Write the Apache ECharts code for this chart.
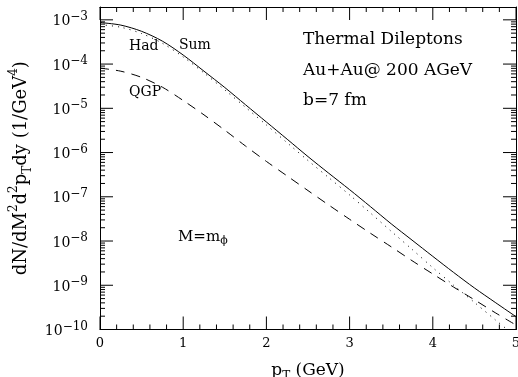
<!DOCTYPE html>
<html>
<head>
<meta charset="utf-8">
<script src="https://cdn.jsdelivr.net/npm/echarts@6/dist/echarts.min.js"></script>
<style>
html, body { margin: 0; padding: 0; background: #fff; }
#chart { width: 518px; height: 377px; }
</style>
</head>
<body>
<div id="chart"></div>
<script>
// p_T grid (GeV)
const pT = [0, 0.25, 0.5, 0.75, 1, 1.25, 1.5, 1.75, 2, 2.25, 2.5, 2.75, 3, 3.25, 3.5, 3.75, 4, 4.25, 4.5, 4.75, 5];
// dN/dM^2 d^2pT dy (1/GeV^4)
const sumRate = [8.7e-4, 7.6e-4, 5.5e-4, 3.3e-4, 1.6e-4, 6.9e-5, 2.95e-5, 1.2e-5, 4.9e-6, 2.0e-6, 8.1e-7,
  3.4e-7, 1.45e-7, 6.0e-8, 2.45e-8, 1.05e-8, 4.5e-9, 1.95e-9, 8.7e-10, 4.1e-10, 1.95e-10];
const hadRate = [7.8e-4, 6.8e-4, 4.9e-4, 2.95e-4, 1.45e-4, 6.3e-5, 2.6e-5, 1.05e-5, 4.2e-6, 1.66e-6, 6.6e-7,
  2.7e-7, 1.1e-7, 4.3e-8, 1.66e-8, 6.5e-9, 2.5e-9, 1.0e-9, 4.1e-10, 1.66e-10, 6.9e-11];
const qgpRate = [8.1e-5, 6.9e-5, 5.0e-5, 3.0e-5, 1.5e-5, 7.1e-6, 3.2e-6, 1.4e-6, 6.3e-7, 2.95e-7, 1.38e-7,
  6.5e-8, 3.1e-8, 1.5e-8, 7.4e-9, 3.6e-9, 1.8e-9, 9.1e-10, 4.7e-10, 2.4e-10, 1.26e-10];
// ticks
const xMajor = [0, 1, 2, 3, 4, 5];
const xMinorSteps = [0.2, 0.4, 0.6, 0.8];
const decades = [1e-10, 1e-9, 1e-8, 1e-7, 1e-6, 1e-5, 1e-4, 1e-3];
const minorSteps = [2, 3, 4, 5, 6, 7, 8, 9];

const yMin = 1e-10, yMax = 1.95e-3;
const font = 'DejaVu Serif';

const xMinor = [];
xMajor.slice(0, -1).forEach(x => xMinorSteps.forEach(s => xMinor.push(x + s)));
const yMinor = [];
decades.forEach(d => minorSteps.forEach(k => { if (k * d <= yMax) yMinor.push(k * d); }));

// tick marks on the bottom/top and left/right frame
const onFrameX = xs => xs.map(x => [x, yMin]).concat(xs.map(x => [x, yMax]));
const onFrameY = ys => ys.map(v => [0, v]).concat(ys.map(v => [5, v]));

const pairs = arr => pT.map((x, i) => [x, arr[i]]);
const black = () => ({color: '#000', width: 1});

function yAxisOf(position, withLabel) {
  return {
    type: 'log', logBase: 10, position: position, min: yMin, max: yMax,
    splitLine: {show: false},
    axisLine: {show: true, onZero: false, lineStyle: black()},
    axisTick: {show: false},
    axisLabel: withLabel ? {
      margin: 12, color: '#000',
      formatter: v => {
        const e = Math.log10(v);
        if (Math.abs(e - Math.round(e)) > 1e-6) return '';
        return '{b|10}{s|\u2212' + (-Math.round(e)) + '}';
      },
      rich: {
        b: {fontFamily: font, fontSize: 14, lineHeight: 18, verticalAlign: 'bottom', color: '#000'},
        s: {fontFamily: font, fontSize: 12, lineHeight: 13, verticalAlign: 'top', color: '#000'}
      }
    } : {show: false}
  };
}

function xAxisOf(position, withLabel) {
  return {
    type: 'value', position: position, min: 0, max: 5, interval: 1,
    splitLine: {show: false},
    axisLine: {show: true, onZero: false, lineStyle: black()},
    axisTick: {show: false},
    axisLabel: withLabel ? {
      margin: 8, color: '#000', fontFamily: font, fontSize: 13
    } : {show: false}
  };
}

const chart = echarts.init(document.getElementById('chart'));

const xBottom = xAxisOf('bottom', true);
xBottom.name = 'p{u|T} (GeV)';
xBottom.nameLocation = 'middle';
xBottom.nameGap = 29;
xBottom.nameTextStyle = {
  fontFamily: font, fontSize: 17, color: '#000', lineHeight: 24,
  rich: {u: {fontFamily: font, fontSize: 12, lineHeight: 12, verticalAlign: 'bottom', color: '#000'}}
};

const yLeft = yAxisOf('left', true);
yLeft.name = 'dN/dM{s|2}d{s|2}p{u|T}dy (1/GeV{s|4})';
yLeft.nameLocation = 'middle';
yLeft.nameRotate = 90;
yLeft.nameGap = 66;
yLeft.nameTextStyle = {
  fontFamily: font, fontSize: 18, color: '#000', lineHeight: 26,
  rich: {
    s: {fontFamily: font, fontSize: 12, lineHeight: 12, verticalAlign: 'top', color: '#000'},
    u: {fontFamily: font, fontSize: 12, lineHeight: 12, verticalAlign: 'bottom', color: '#000'}
  }
};

const lineSeries = (name, arr, type) => ({
  name: name, type: 'line', data: pairs(arr),
  xAxisIndex: 0, yAxisIndex: 0,
  symbol: 'none', smooth: 0.3, clip: true,
  lineStyle: {color: '#000', width: 1, type: type}
});

// inward tick marks placed through the axes' own scales
const tickSeries = (name, data, len, vertical) => ({
  name: name, type: 'custom', xAxisIndex: 0, yAxisIndex: 0,
  silent: true, clip: false, z: 10, data: data,
  renderItem: (params, api) => {
    const p = api.coord([api.value(0), api.value(1)]);
    let shape;
    if (vertical) {
      const dir = api.value(1) === yMin ? -1 : 1;
      shape = {x1: p[0], y1: p[1], x2: p[0], y2: p[1] + dir * len};
    } else {
      const dir = api.value(0) === 0 ? 1 : -1;
      shape = {x1: p[0], y1: p[1], x2: p[0] + dir * len, y2: p[1]};
    }
    return {type: 'line', shape: shape, style: {stroke: '#000', lineWidth: 1}};
  }
});

// annotation texts as title boxes, centred vertically on y
const note = (text, x, y, size) => ({
  text: text, left: x, top: y - 10, padding: 0,
  textStyle: {fontFamily: font, fontSize: size, fontWeight: 'normal', color: '#000', lineHeight: 20}
});

const mNote = note('M=m{u|\u03d5}', 178, 237, 15);
mNote.textStyle.rich = {u: {fontFamily: font, fontSize: 11, lineHeight: 11, verticalAlign: 'bottom', color: '#000'}};

chart.setOption({
  animation: false,
  backgroundColor: '#fff',
  title: [
    note('Thermal Dileptons', 303, 39.5, 17),
    note('Au+Au@ 200 AGeV', 303, 71, 17),
    note('b=7 fm', 303, 101, 17),
    note('Had', 129, 46.5, 14),
    note('Sum', 179, 45, 14),
    note('QGP', 129, 92.5, 14),
    mNote
  ],
  grid: {left: 100, right: 2, top: 7, bottom: 47.5, outerBoundsMode: 'none'},
  xAxis: [xBottom, xAxisOf('top', false)],
  yAxis: [yLeft, yAxisOf('right', false)],
  series: [
    lineSeries('Sum', sumRate, 'solid'),
    lineSeries('Had', hadRate, [1, 5]),
    lineSeries('QGP', qgpRate, [9, 7]),
    tickSeries('x major', onFrameX(xMajor), 13, true),
    tickSeries('x minor', onFrameX(xMinor), 5, true),
    tickSeries('y major', onFrameY(decades), 13, false),
    tickSeries('y minor', onFrameY(yMinor), 5, false)
  ]
});
</script>
</body>
</html>
